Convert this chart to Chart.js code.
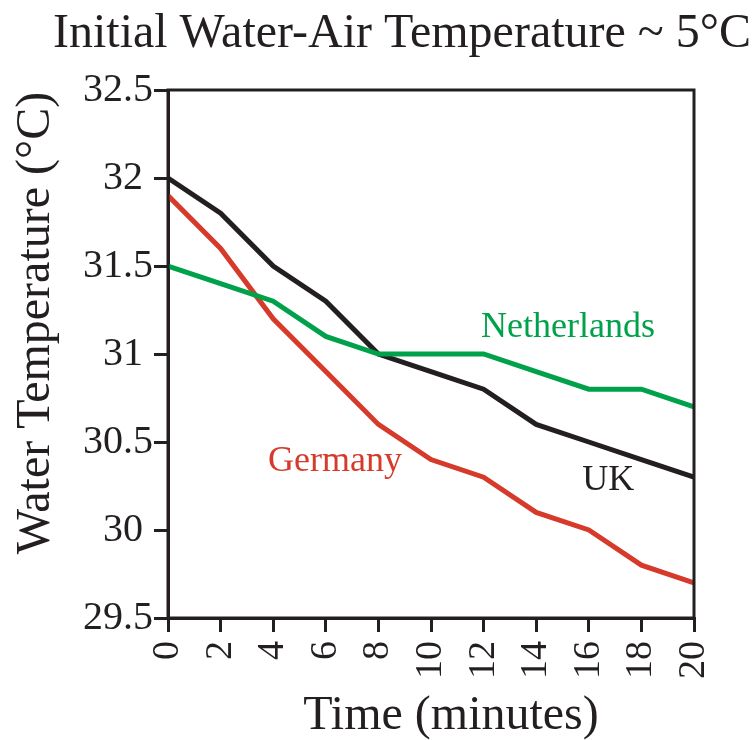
<!DOCTYPE html>
<html>
<head>
<meta charset="utf-8">
<script src="https://cdn.jsdelivr.net/npm/chart.js@4/dist/chart.umd.min.js"></script>
<style>
  html, body { margin: 0; padding: 0; background: #fff; }
  #wrap { width: 753px; height: 740px; }
</style>
</head>
<body>
<div id="wrap"><canvas id="chart" width="753" height="740"></canvas></div>
<script>
const minutes = [0, 2, 4, 6, 8, 10, 12, 14, 16, 18, 20];
const ukTemps = [32.0, 31.8, 31.5, 31.3, 31.0, 30.9, 30.8, 30.6, 30.5, 30.4, 30.3];
const germanyTemps = [31.9, 31.6, 31.2, 30.9, 30.6, 30.4, 30.3, 30.1, 30.0, 29.8, 29.7];
const netherlandsTemps = [31.5, 31.4, 31.3, 31.1, 31.0, 31.0, 31.0, 30.9, 30.8, 30.8, 30.7];

// series name labels, placed in data units
const seriesLabels = [
  { text: 'Netherlands', x: 11.9, y: 31.15, color: '#00a14b' },
  { text: 'Germany', x: 3.8, y: 30.39, color: '#d63a2a' },
  { text: 'UK', x: 15.75, y: 30.28, color: '#231f20' }
];

const SERIF = '"Liberation Serif", "Times New Roman", serif';
const INK = '#231f20';

const toPoints = vals => vals.map((v, i) => ({ x: minutes[i], y: v }));

const frameAndText = {
  id: 'frameAndText',
  afterDatasetsDraw(chart) {
    const { ctx, chartArea, scales } = chart;
    ctx.save();
    ctx.strokeStyle = INK;
    ctx.lineWidth = 3;
    ctx.strokeRect(chartArea.left, chartArea.top, chartArea.right - chartArea.left, chartArea.bottom - chartArea.top);

    ctx.font = '36px ' + SERIF;
    ctx.textAlign = 'left';
    ctx.textBaseline = 'middle';
    seriesLabels.forEach(l => {
      ctx.fillStyle = l.color;
      ctx.fillText(l.text, scales.x.getPixelForValue(l.x), scales.y.getPixelForValue(l.y));
    });

    // chart title and axis titles
    ctx.fillStyle = INK;
    ctx.font = '48px ' + SERIF;
    ctx.textAlign = 'center';
    ctx.fillText('Initial Water-Air Temperature ~ 5°C', 402, 34);
    ctx.fillText('Time (minutes)', 451, 716);

    ctx.translate(36, 323);
    ctx.rotate(-Math.PI / 2);
    ctx.fillText('Water Temperature (°C)', 0, 0);
    ctx.restore();
  }
};

const lineStyle = { borderWidth: 5, pointRadius: 0, tension: 0, fill: false, borderJoinStyle: 'miter' };

new Chart(document.getElementById('chart'), {
  type: 'line',
  data: {
    datasets: [
      { label: 'Netherlands', data: toPoints(netherlandsTemps), borderColor: '#00a14b', ...lineStyle },
      { label: 'Germany', data: toPoints(germanyTemps), borderColor: '#d63a2a', ...lineStyle },
      { label: 'UK', data: toPoints(ukTemps), borderColor: INK, ...lineStyle }
    ]
  },
  options: {
    responsive: false,
    animation: false,
    layout: { padding: { top: 90, right: 59, bottom: 0, left: 0 } },
    plugins: {
      legend: { display: false },
      tooltip: { enabled: false }
    },
    scales: {
      x: {
        type: 'linear',
        min: 0,
        max: 20,
        afterFit: s => { s.height = 122; },
        border: { display: true, color: INK, width: 3 },
        grid: { drawOnChartArea: false, color: INK, lineWidth: 3, tickLength: 14 },
        ticks: {
          stepSize: 2,
          color: INK,
          font: { family: SERIF, size: 38 },
          minRotation: 90,
          maxRotation: 90,
          padding: 9
        }
      },
      y: {
        min: 29.5,
        max: 32.5,
        afterFit: s => { s.width = 168; },
        border: { display: true, color: INK, width: 3 },
        grid: { drawOnChartArea: false, color: INK, lineWidth: 3, tickLength: 14 },
        ticks: {
          stepSize: 0.5,
          color: INK,
          font: { family: SERIF, size: 40 },
          padding: 1,
          // whole numbers keep a trailing space so digits line up with the ".5" labels
          callback: v => Number.isInteger(v) ? v + ' ' : String(v)
        }
      }
    }
  },
  plugins: [frameAndText]
});
</script>
</body>
</html>
